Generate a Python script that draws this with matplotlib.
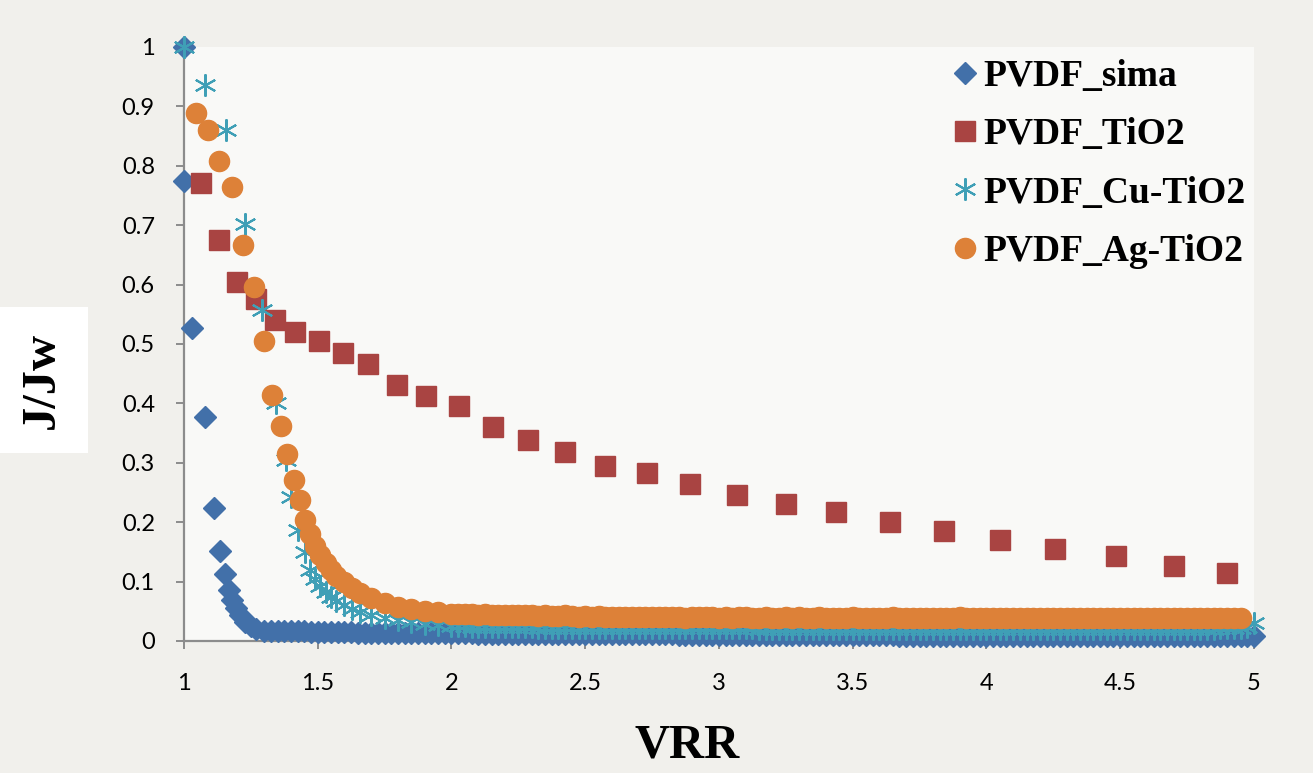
import matplotlib
matplotlib.use("Agg")
import matplotlib.pyplot as plt

# shared VRR grid for the dense tails (read at the spacing of the packed marks)
tail_vrr = [1.300, 1.325, 1.350, 1.375, 1.400, 1.425, 1.450, 1.475, 1.500, 1.525,
            1.550, 1.575, 1.600, 1.625, 1.650, 1.675, 1.700, 1.725, 1.750, 1.775,
            1.800, 1.825, 1.850, 1.875, 1.900, 1.925, 1.950, 1.975, 2.000, 2.025,
            2.050, 2.075, 2.100, 2.125, 2.150, 2.175, 2.200, 2.225, 2.250, 2.275,
            2.300, 2.325, 2.350, 2.375, 2.400, 2.425, 2.450, 2.475, 2.500, 2.525,
            2.550, 2.575, 2.600, 2.625, 2.650, 2.675, 2.700, 2.725, 2.750, 2.775,
            2.800, 2.825, 2.850, 2.875, 2.900, 2.925, 2.950, 2.975, 3.000, 3.025,
            3.050, 3.075, 3.100, 3.125, 3.150, 3.175, 3.200, 3.225, 3.250, 3.275,
            3.300, 3.325, 3.350, 3.375, 3.400, 3.425, 3.450, 3.475, 3.500, 3.525,
            3.550, 3.575, 3.600, 3.625, 3.650, 3.675, 3.700, 3.725, 3.750, 3.775,
            3.800, 3.825, 3.850, 3.875, 3.900, 3.925, 3.950, 3.975, 4.000, 4.025,
            4.050, 4.075, 4.100, 4.125, 4.150, 4.175, 4.200, 4.225, 4.250, 4.275,
            4.300, 4.325, 4.350, 4.375, 4.400, 4.425, 4.450, 4.475, 4.500, 4.525,
            4.550, 4.575, 4.600, 4.625, 4.650, 4.675, 4.700, 4.725, 4.750, 4.775,
            4.800, 4.825, 4.850, 4.875, 4.900, 4.925, 4.950, 4.975, 5.000]

# PVDF_sima
sima_head_x = [1.0, 1.0, 1.03, 1.079, 1.112, 1.135, 1.153, 1.168, 1.18, 1.194,
               1.21, 1.23, 1.25, 1.27]
sima_head_y = [1.0, 0.775, 0.527, 0.377, 0.224, 0.152, 0.113, 0.086, 0.069, 0.056,
               0.043, 0.032, 0.025, 0.020]
sima_tail_y = [0.017, 0.017, 0.016, 0.016, 0.016, 0.016, 0.016, 0.015, 0.015, 0.015,
               0.015, 0.015, 0.015, 0.015, 0.014, 0.014, 0.014, 0.014, 0.014, 0.014,
               0.014, 0.014, 0.013, 0.013, 0.013, 0.013, 0.013, 0.013, 0.013, 0.013,
               0.013, 0.013, 0.012, 0.012, 0.012, 0.012, 0.012, 0.012, 0.012, 0.012,
               0.012, 0.012, 0.012, 0.011, 0.011, 0.011, 0.011, 0.011, 0.011, 0.011,
               0.011, 0.011, 0.011, 0.011, 0.011, 0.011, 0.011, 0.011, 0.011, 0.011,
               0.011, 0.011, 0.010, 0.010, 0.010, 0.010, 0.010, 0.010, 0.010, 0.010,
               0.010, 0.010, 0.010, 0.010, 0.010, 0.010, 0.010, 0.010, 0.010, 0.010,
               0.010, 0.010, 0.010, 0.010, 0.010, 0.010, 0.010, 0.010, 0.010, 0.010,
               0.010, 0.010, 0.010, 0.010, 0.010, 0.009, 0.009, 0.009, 0.009, 0.009,
               0.009, 0.009, 0.009, 0.009, 0.009, 0.009, 0.009, 0.009, 0.009, 0.009,
               0.009, 0.009, 0.009, 0.009, 0.009, 0.009, 0.009, 0.009, 0.009, 0.009,
               0.009, 0.009, 0.009, 0.009, 0.009, 0.009, 0.009, 0.009, 0.009, 0.009,
               0.009, 0.009, 0.009, 0.009, 0.009, 0.009, 0.009, 0.009, 0.009, 0.009,
               0.009, 0.009, 0.009, 0.009, 0.009, 0.009, 0.008, 0.008, 0.008]

# PVDF_TiO2
tio2_x = [1.064, 1.131, 1.198, 1.269, 1.34, 1.415, 1.505, 1.594, 1.688, 1.796,
          1.905, 2.028, 2.155, 2.286, 2.424, 2.574, 2.73, 2.89, 3.067, 3.25,
          3.437, 3.64, 3.84, 4.05, 4.256, 4.484, 4.70, 4.90]
tio2_y = [0.771, 0.675, 0.604, 0.576, 0.540, 0.520, 0.505, 0.485, 0.466, 0.431,
          0.412, 0.396, 0.360, 0.338, 0.318, 0.295, 0.283, 0.264, 0.246, 0.231,
          0.217, 0.200, 0.185, 0.170, 0.155, 0.143, 0.126, 0.114]

# PVDF_Cu-TiO2
cu_head_x = [1.0, 1.079, 1.157, 1.228, 1.29, 1.344, 1.381, 1.40, 1.426, 1.452,
             1.47, 1.49, 1.51, 1.53, 1.55, 1.57, 1.60, 1.63, 1.66, 1.70,
             1.75, 1.80, 1.85, 1.90, 1.95, 2.00]
cu_head_y = [1.0, 0.936, 0.860, 0.702, 0.557, 0.400, 0.305, 0.242, 0.187, 0.150,
             0.120, 0.105, 0.092, 0.082, 0.074, 0.067, 0.060, 0.054, 0.049, 0.044,
             0.039, 0.035, 0.032, 0.029, 0.027, 0.025]
cu_tail_y = [0.025, 0.025, 0.024, 0.024, 0.024, 0.024, 0.023, 0.023, 0.023, 0.023,
             0.023, 0.023, 0.022, 0.022, 0.022, 0.022, 0.022, 0.022, 0.022, 0.022,
             0.022, 0.021, 0.021, 0.021, 0.021, 0.021, 0.021, 0.021, 0.021, 0.021,
             0.021, 0.021, 0.021, 0.021, 0.021, 0.021, 0.021, 0.021, 0.021, 0.021,
             0.021, 0.021, 0.021, 0.021, 0.021, 0.020, 0.020, 0.020, 0.020, 0.020,
             0.020, 0.020, 0.020, 0.020, 0.020, 0.020, 0.020, 0.020, 0.020, 0.020,
             0.020, 0.020, 0.020, 0.020, 0.020, 0.020, 0.020, 0.020, 0.020, 0.020,
             0.020, 0.020, 0.020, 0.020, 0.020, 0.020, 0.020, 0.020, 0.020, 0.020,
             0.020, 0.020, 0.020, 0.020, 0.020, 0.020, 0.020, 0.020, 0.020, 0.020,
             0.020, 0.020, 0.020, 0.020, 0.020, 0.020, 0.020, 0.020, 0.020, 0.020,
             0.020, 0.020, 0.020, 0.020, 0.020, 0.020, 0.020, 0.020, 0.020, 0.020,
             0.020, 0.020, 0.020, 0.020, 0.021, 0.021, 0.021, 0.022, 0.024, 0.030]

# PVDF_Ag-TiO2
ag_head_x = [1.045, 1.09, 1.131, 1.18, 1.22, 1.262, 1.30, 1.33, 1.363, 1.385,
             1.41, 1.434, 1.452, 1.47, 1.49, 1.51, 1.53, 1.55, 1.57, 1.60,
             1.63, 1.66, 1.70, 1.75, 1.80, 1.85, 1.90, 1.95, 2.00]
ag_head_y = [0.889, 0.860, 0.808, 0.764, 0.667, 0.596, 0.505, 0.414, 0.362, 0.315,
             0.271, 0.237, 0.204, 0.180, 0.160, 0.145, 0.132, 0.120, 0.110, 0.100,
             0.090, 0.080, 0.072, 0.064, 0.058, 0.053, 0.050, 0.048, 0.046]
ag_tail_y = [0.046, 0.045, 0.045, 0.044, 0.045, 0.044, 0.044, 0.043, 0.044, 0.043,
             0.043, 0.043, 0.042, 0.043, 0.042, 0.042, 0.043, 0.042, 0.041, 0.042,
             0.041, 0.042, 0.041, 0.041, 0.040, 0.041, 0.041, 0.040, 0.041, 0.040,
             0.040, 0.041, 0.040, 0.040, 0.039, 0.040, 0.040, 0.041, 0.040, 0.039,
             0.040, 0.039, 0.040, 0.040, 0.039, 0.039, 0.040, 0.039, 0.039, 0.040,
             0.039, 0.040, 0.039, 0.039, 0.040, 0.039, 0.038, 0.039, 0.039, 0.040,
             0.039, 0.039, 0.038, 0.039, 0.039, 0.040, 0.039, 0.038, 0.039, 0.039,
             0.038, 0.039, 0.039, 0.038, 0.039, 0.040, 0.039, 0.038, 0.039, 0.038,
             0.039, 0.038, 0.039, 0.039, 0.038, 0.039, 0.038, 0.039, 0.039, 0.038,
             0.039, 0.038, 0.038, 0.039, 0.038, 0.039, 0.038, 0.038, 0.039, 0.038,
             0.038, 0.039, 0.038, 0.038, 0.039, 0.038, 0.038, 0.039, 0.038, 0.038,
             0.039, 0.038, 0.038, 0.038, 0.039, 0.038, 0.038, 0.039]

x_ticks = [1, 1.5, 2, 2.5, 3, 3.5, 4, 4.5, 5]
x_tick_labels = ["1", "1.5", "2", "2.5", "3", "3.5", "4", "4.5", "5"]
y_ticks = [0, 0.1, 0.2, 0.3, 0.4, 0.5, 0.6, 0.7, 0.8, 0.9, 1.0]
y_tick_labels = ["0", "0.1", "0.2", "0.3", "0.4", "0.5", "0.6", "0.7", "0.8", "0.9", "1"]

blue = "#4270a9"
red = "#a94442"
cyan = "#3f9fb6"
orange = "#dd8138"
axis_gray = "#8c8c8c"

fig = plt.figure(figsize=(13.13, 7.73), dpi=100, facecolor="#f1f0ec")
ax = fig.add_axes([0.1401, 0.1708, 0.955 - 0.1401, 0.9392 - 0.1708])
ax.set_facecolor("#f9f9f7")

sima_x = sima_head_x + tail_vrr
sima_y = sima_head_y + sima_tail_y
cu_x = cu_head_x + tail_vrr[29:]
cu_y = cu_head_y + cu_tail_y
ag_x = ag_head_x + tail_vrr[29:147]
ag_y = ag_head_y + ag_tail_y

ax.plot(sima_x, sima_y, ls="none", marker="D", ms=11.5, color=blue,
        mec=blue, label="PVDF_sima", clip_on=False, zorder=3)
ax.plot(tio2_x, tio2_y, ls="none", marker="s", ms=14, color=red,
        mec=red, label="PVDF_TiO2", clip_on=False, zorder=3)
ax.plot(cu_x, cu_y, ls="none", marker=(6, 2, 0), ms=16, mew=1.5,
        color=cyan, label="PVDF_Cu-TiO2", clip_on=False, zorder=4)
ax.plot(ag_x, ag_y, ls="none", marker="o", ms=14.5, color=orange,
        mec=orange, label="PVDF_Ag-TiO2", clip_on=False, zorder=5)

ax.set_xlim(1, 5)
ax.set_ylim(0, 1)
ax.set_xticks(x_ticks)
ax.set_xticklabels(x_tick_labels)
ax.set_yticks(y_ticks)
ax.set_yticklabels(y_tick_labels)

for side in ["top", "right"]:
    ax.spines[side].set_visible(False)
for side in ["left", "bottom"]:
    ax.spines[side].set_color(axis_gray)
    ax.spines[side].set_linewidth(1.6)

ax.tick_params(axis="both", direction="out", length=6, width=1.4,
               color=axis_gray, labelsize=17, labelcolor="black")
ax.tick_params(axis="y", pad=15)
ax.tick_params(axis="x", pad=17)
for lab in ax.get_xticklabels() + ax.get_yticklabels():
    lab.set_family("Lato")

fig.text(0.523, 0.035, "VRR", family="Liberation Serif", weight="bold",
         fontsize=35, ha="center", va="center")
fig.text(0.032, 0.508, "J/Jw", family="Liberation Serif", weight="bold",
         fontsize=35, ha="center", va="center", rotation=90,
         bbox=dict(boxstyle="square,pad=0.5", fc="white", ec="none"))

leg = ax.legend(loc="upper left", bbox_to_anchor=(0.705, 1.005), frameon=False,
                prop=dict(family="Liberation Serif", weight="bold", size=27),
                handlelength=0.6, handletextpad=0.2, labelspacing=0.62,
                borderaxespad=0.0)

fig.savefig("out.png", dpi=100, facecolor=fig.get_facecolor())
